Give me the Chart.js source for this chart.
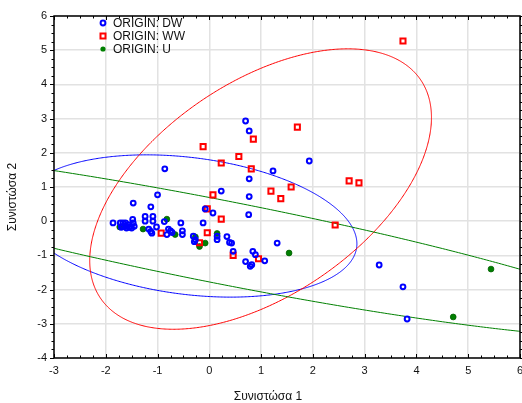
<!DOCTYPE html>
<html>
<head>
<meta charset="utf-8">
<script src="https://cdn.jsdelivr.net/npm/chart.js@4.4.1/dist/chart.umd.min.js"></script>
<style>
  html, body { margin: 0; padding: 0; background: #fff; }
  #wrap { width: 522px; height: 403px; }
</style>
</head>
<body>
<div id="wrap"><canvas id="myChart" width="522" height="403"></canvas></div>
<script>
const seriesNames = ['ORIGIN: DW', 'ORIGIN: WW', 'ORIGIN: U']

const dwX = [0.70, 0.77, -0.86, 0.77, 0.23, -1.00, 0.77, 1.23, 1.93, 1.31, 1.07, 3.28, 3.74, 3.82,
  -1.86, -1.72, -1.67, -1.62, -1.67, -1.62, -1.56, -1.52, -1.48, -1.47, -1.45, -1.60, -1.55, -1.70, -1.50,
  -1.47, -1.13, -1.24, -1.24, -1.09, -1.09, -1.02, -0.87, -1.17, -1.13, -1.11,
  -0.79, -0.75, -0.82, -0.72, -0.55, -0.52, -0.52, -0.31, -0.27, -0.29,
  -0.12, -0.08, 0.07, 0.15, 0.15, 0.34, 0.39, 0.43, 0.46, 0.70, 0.76, 0.84, 0.89, 0.79, 0.82]
const dwY = [2.93, 2.64, 1.53, 1.24, 0.88, 0.77, 0.72, 1.47, 1.76, -0.64, -1.16, -1.28, -1.92, -2.86,
  -0.05, -0.05, -0.05, -0.05, -0.15, -0.15, -0.10, -0.15, 0.05, -0.05, -0.15, -0.20, -0.18, -0.18, -0.20,
  0.53, 0.42, 0.14, 0.00, 0.14, 0.00, -0.17, -0.01, -0.23, -0.30, -0.35,
  -0.23, -0.28, -0.39, -0.33, -0.05, -0.28, -0.39, -0.44, -0.54, -0.60,
  -0.05, 0.36, 0.24, -0.44, -0.54, -0.45, -0.62, -0.64, -0.88, -1.18, 0.19, -0.88, -0.98, -1.32, -1.27]

const wwX = [-0.12, 0.23, 0.57, 0.81, 0.85, 0.07, 3.74, 1.70, 2.70, 2.89, 1.58, 1.19, 1.38, 2.43,
  -0.93, -0.19, -0.04, -0.04, 0.23, 0.46, 0.95]
const wwY = [2.18, 1.70, 1.89, 1.53, 2.40, 0.77, 5.27, 2.75, 1.18, 1.12, 1.00, 0.88, 0.66, -0.11,
  -0.35, -0.63, 0.36, -0.34, 0.06, -1.00, -1.10]

const uX = [-1.73, -1.28, -0.82, -0.66, -0.27, -0.19, -0.08, 0.15, 1.54, 4.71, 5.44]
const uY = [-0.17, -0.23, 0.06, -0.39, -0.46, -0.74, -0.64, -0.36, -0.93, -2.80, -1.40]

// confidence ellipses (DW, WW, U): centre, half extent on x / y, correlation
const ellCx = [-0.40, 0.99, 0.30]
const ellCy = [-0.14, 0.94, -0.63]
const ellSx = [3.25, 3.30, 8.40]
const ellSy = [2.08, 4.10, 2.77]
const ellR = [-0.25, 0.51, -0.895]

const xTicks = [-3, -2, -1, 0, 1, 2, 3, 4, 5, 6]
const yTicks = [-4, -3, -2, -1, 0, 1, 2, 3, 4, 5, 6]

const colors = ['#0000ff', '#ff0000', '#008000']

const toPts = (xs, ys) => xs.map((v, i) => ({ x: v, y: ys[i] }))

const ellipsePlugin = {
  id: 'ellipses',
  beforeDatasetsDraw(chart) {
    const { ctx, chartArea: a, scales: { x, y } } = chart
    ctx.save()
    ctx.beginPath()
    ctx.rect(a.left, a.top, a.right - a.left, a.bottom - a.top)
    ctx.clip()
    for (let i = 0; i < ellCx.length; i++) {
      const q = Math.sqrt(1 - ellR[i] * ellR[i])
      ctx.beginPath()
      for (let k = 0; k <= 720; k++) {
        const t = k * Math.PI / 360
        const dx = ellCx[i] + ellSx[i] * Math.cos(t)
        const dy = ellCy[i] + ellSy[i] * (ellR[i] * Math.cos(t) + q * Math.sin(t))
        const px = x.getPixelForValue(dx)
        const py = y.getPixelForValue(dy)
        if (k === 0) ctx.moveTo(px, py)
        else ctx.lineTo(px, py)
      }
      ctx.strokeStyle = colors[i]
      ctx.lineWidth = 1
      ctx.stroke()
    }
    ctx.restore()
  }
}

function drawMarker(ctx, i, cx, cy) {
  ctx.beginPath()
  if (i === 0) {
    ctx.arc(cx, cy, 2.4, 0, Math.PI * 2)
    ctx.lineWidth = 2
    ctx.strokeStyle = colors[0]
    ctx.stroke()
  } else if (i === 1) {
    ctx.rect(cx - 2.5, cy - 2.5, 5, 5)
    ctx.lineWidth = 2
    ctx.strokeStyle = colors[1]
    ctx.stroke()
  } else {
    ctx.arc(cx, cy, 2.6, 0, Math.PI * 2)
    ctx.fillStyle = colors[2]
    ctx.fill()
  }
}

const framePlugin = {
  id: 'frame',
  afterDraw(chart) {
    const { ctx, chartArea: a, scales: { x, y } } = chart
    ctx.save()
    ctx.strokeStyle = '#000'
    ctx.lineWidth = 1.5
    ctx.strokeRect(a.left, a.top, a.right - a.left, a.bottom - a.top)

    // tick marks, 4 per unit
    ctx.lineWidth = 1
    ctx.beginPath()
    for (let v = xTicks[0]; v <= xTicks[xTicks.length - 1] + 1e-9; v += 0.25) {
      const px = Math.round(x.getPixelForValue(v)) + 0.5
      const major = Math.abs(v - Math.round(v)) < 1e-6
      const len = major ? 4 : 2.5
      ctx.moveTo(px, a.bottom); ctx.lineTo(px, a.bottom - len)
      ctx.moveTo(px, a.top); ctx.lineTo(px, a.top + len)
    }
    for (let v = yTicks[0]; v <= yTicks[yTicks.length - 1] + 1e-9; v += 0.25) {
      const py = Math.round(y.getPixelForValue(v)) + 0.5
      const major = Math.abs(v - Math.round(v)) < 1e-6
      const len = major ? 4 : 2.5
      ctx.moveTo(a.left, py); ctx.lineTo(a.left - len, py)
      ctx.moveTo(a.right, py); ctx.lineTo(a.right + len, py)
    }
    ctx.stroke()

    // legend
    ctx.font = '12px "Liberation Sans", Arial, sans-serif'
    ctx.textBaseline = 'middle'
    ctx.textAlign = 'left'
    seriesNames.forEach((name, i) => {
      const ly = 23 + i * 13
      drawMarker(ctx, i, 103, ly)
      ctx.fillStyle = '#111'
      ctx.fillText(name, 113, ly + 0.5)
    })

    // axis titles
    ctx.textAlign = 'center'
    ctx.fillText('Συνιστώσα 1', 268, 397)
    ctx.translate(13, 197)
    ctx.rotate(-Math.PI / 2)
    ctx.fillText('Συνιστώσα 2', 0, 0)
    ctx.restore()
  }
}

const ctx = document.getElementById('myChart')
const tickFont = { family: '"Liberation Sans", Arial, sans-serif', size: 11 }

new Chart(ctx, {
  type: 'scatter',
  data: {
    datasets: [
      {
        label: seriesNames[0],
        data: toPts(dwX, dwY),
        pointStyle: 'circle',
        pointRadius: 2.4,
        pointBorderWidth: 2,
        borderColor: colors[0],
        backgroundColor: 'rgba(0,0,0,0)'
      },
      {
        label: seriesNames[1],
        data: toPts(wwX, wwY),
        pointStyle: 'rect',
        pointRadius: 3.6,
        pointBorderWidth: 2,
        borderColor: colors[1],
        backgroundColor: 'rgba(0,0,0,0)'
      },
      {
        label: seriesNames[2],
        data: toPts(uX, uY),
        pointStyle: 'circle',
        pointRadius: 2.9,
        pointBorderWidth: 0.8,
        borderColor: '#006000',
        backgroundColor: colors[2]
      }
    ]
  },
  options: {
    responsive: false,
    animation: false,
    devicePixelRatio: 1,
    layout: { autoPadding: false, padding: { top: 16, right: 2, left: 0, bottom: 0 } },
    plugins: {
      legend: { display: false },
      tooltip: { enabled: false }
    },
    scales: {
      x: {
        type: 'linear',
        min: -3,
        max: 6,
        afterBuildTicks: s => { s.ticks = xTicks.map(v => ({ value: v })) },
        afterFit: s => { s.height = 45; s.paddingLeft = 0; s.paddingRight = 0 },
        grid: { color: '#e2e2e2', lineWidth: 1.5, drawTicks: false },
        border: { display: false },
        ticks: { font: tickFont, color: '#111', padding: 6, maxRotation: 0, minRotation: 0 }
      },
      y: {
        type: 'linear',
        min: -4,
        max: 6,
        afterBuildTicks: s => { s.ticks = yTicks.map(v => ({ value: v })) },
        afterFit: s => { s.width = 54; s.paddingTop = 0; s.paddingBottom = 0 },
        grid: { color: '#e2e2e2', lineWidth: 1.5, drawTicks: false },
        border: { display: false },
        ticks: { font: tickFont, color: '#111', padding: 7 }
      }
    }
  },
  plugins: [ellipsePlugin, framePlugin]
})
</script>
</body>
</html>
